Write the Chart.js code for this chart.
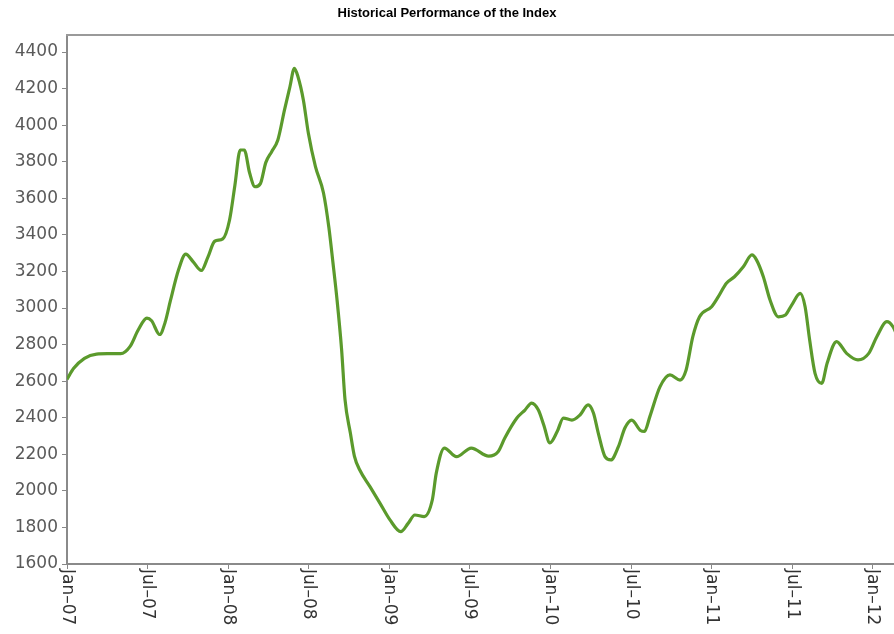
<!DOCTYPE html>
<html>
<head>
<meta charset="utf-8">
<script src="https://cdn.jsdelivr.net/npm/chart.js@4"></script>
<style>
  html, body { margin: 0; padding: 0; background: #fff; }
  #wrap { width: 894px; height: 634px; }
</style>
</head>
<body>
<div id="wrap"><canvas id="c" width="894" height="634"></canvas></div>
<script>
// Months elapsed since Jan-07 (decimal) for each reading
const months = [
  0.0, 0.5, 1.3, 2.2, 3.0, 4.0, 4.7, 5.3, 5.95, 6.3, 6.9, 7.3, 7.7, 8.3, 8.84, 9.4, 10.0, 10.5, 11.0, 11.6,
  12.1, 12.5, 12.9, 13.2, 13.6, 14.0, 14.4, 14.8, 15.24, 15.7, 16.2, 16.6, 16.93, 17.2, 17.6, 17.97, 18.5, 19.1, 19.5, 19.8,
  20.1, 20.45, 20.7, 21.1, 21.4, 21.8, 22.56, 23.3, 24.05, 24.85, 25.4, 25.9, 26.6, 27.2, 27.5, 28.1, 29.0, 30.1, 31.4, 32.1,
  32.6, 33.5, 34.1, 34.6, 35.1, 35.5, 35.96, 36.5, 36.96, 37.6, 38.2, 38.8, 39.2, 39.56, 40.06, 40.5, 41.05, 41.55, 42.05, 42.7,
  43.0, 43.4, 44.16, 44.9, 45.65, 46.1, 46.6, 47.1, 48.0, 48.5, 49.1, 49.7, 50.36, 51.0, 51.35, 51.85, 52.35, 52.97, 53.5, 53.96,
  54.6, 54.96, 55.3, 55.7, 56.2, 56.6, 57.3, 58.05, 58.9, 59.7, 60.3, 61.05, 61.5, 61.8
];
const indexValues = [
  2610, 2670, 2725, 2748, 2750, 2750, 2790, 2880, 2945, 2930, 2855, 2920, 3040, 3208, 3295, 3252, 3205, 3280, 3365, 3378,
  3480, 3670, 3864, 3864, 3738, 3663, 3680, 3795, 3855, 3919, 4085, 4210, 4311, 4265, 4138, 3957, 3773, 3629, 3440, 3250,
  3050, 2770, 2500, 2316, 2190, 2114, 2023, 1933, 1841, 1777, 1822, 1868, 1859, 1950, 2098, 2234, 2187, 2234, 2190, 2214,
  2289, 2398, 2442, 2480, 2442, 2360, 2262, 2324, 2398, 2387, 2415, 2470, 2426, 2316, 2187, 2169, 2240, 2345, 2387, 2330,
  2325, 2406, 2570, 2634, 2606, 2661, 2843, 2952, 3007, 3062, 3135, 3171, 3226, 3290, 3262, 3171, 3044, 2952, 2962, 3016,
  3080, 3007, 2825, 2643, 2588, 2698, 2816, 2752, 2716, 2752, 2843, 2925, 2898, 2850
];
// X-axis tick labels (every 6 months from Jan-07)
const xTickMonths = [0, 6, 12, 18, 24, 30, 36, 42, 48, 54, 60];
const xTickLabels = ['Jan–07', 'Jul–07', 'Jan–08', 'Jul–08', 'Jan–09', 'Jul–09', 'Jan–10', 'Jul–10', 'Jan–11', 'Jul–11', 'Jan–12'];
// Y-axis ticks
const yTicks = [1600, 1800, 2000, 2200, 2400, 2600, 2800, 3000, 3200, 3400, 3600, 3800, 4000, 4200, 4400];

const points = months.map((m, i) => ({ x: m, y: indexValues[i] }));

const frame = {
  id: 'frame',
  afterDraw(chart) {
    const { ctx, chartArea: a, scales } = chart;
    ctx.save();
    // top border
    ctx.strokeStyle = '#9a9a9a';
    ctx.lineWidth = 2;
    ctx.beginPath();
    ctx.moveTo(a.left - 1, a.top);
    ctx.lineTo(a.right + 2, a.top);
    ctx.stroke();
    // rotated x labels (reading top to bottom)
    ctx.fillStyle = '#333';
    ctx.font = '17px "DejaVu Sans"';
    ctx.textAlign = 'left';
    ctx.textBaseline = 'middle';
    xTickMonths.forEach((m, i) => {
      const px = scales.x.getPixelForValue(m);
      ctx.save();
      ctx.translate(px, a.bottom + 5);
      ctx.rotate(Math.PI / 2);
      ctx.fillText(xTickLabels[i], 0, 0);
      ctx.restore();
    });
    ctx.restore();
  }
};

new Chart(document.getElementById('c'), {
  type: 'line',
  data: {
    datasets: [{
      label: 'Index',
      data: points,
      borderColor: '#5b9a2c',
      borderWidth: 3.2,
      pointRadius: 0,
      fill: false,
      cubicInterpolationMode: 'monotone'
    }]
  },
  options: {
    responsive: false,
    animation: false,
    layout: { padding: { left: 0, right: 0, top: 0, bottom: 0 } },
    plugins: {
      legend: { display: false },
      tooltip: { enabled: false },
      title: {
        display: true,
        text: 'Historical Performance of the Index',
        color: '#000',
        font: { family: '"Liberation Sans", Arial, sans-serif', size: 13, weight: 'bold' },
        padding: { top: 6, bottom: 13.4 }
      }
    },
    scales: {
      x: {
        type: 'linear',
        min: 0,
        max: 61.58,
        afterFit(s) { s.height = 70; },
        afterBuildTicks(s) { s.ticks = xTickMonths.map(v => ({ value: v })); },
        ticks: { display: false },
        grid: { drawOnChartArea: false, drawTicks: true, tickLength: 5, color: '#888', lineWidth: 1 },
        border: { display: true, color: '#8a8a8a', width: 2 }
      },
      y: {
        min: 1600,
        max: 4493,
        afterFit(s) { s.width = 67; },
        afterBuildTicks(s) { s.ticks = yTicks.map(v => ({ value: v })); },
        ticks: {
          color: '#5a5a5a',
          padding: 4,
          font: { family: '"DejaVu Sans"', size: 17 },
          callback: v => String(v)
        },
        grid: { drawOnChartArea: false, drawTicks: true, tickLength: 5, color: '#888', lineWidth: 1 },
        border: { display: true, color: '#8a8a8a', width: 2 }
      }
    }
  },
  plugins: [frame]
});
</script>
</body>
</html>
